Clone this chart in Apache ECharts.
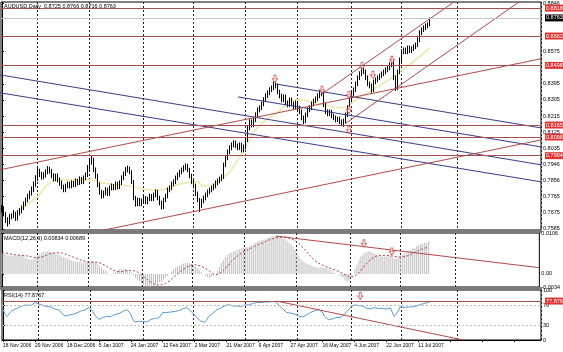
<!DOCTYPE html>
<html>
<head>
<meta charset="utf-8">
<script src="https://cdn.jsdelivr.net/npm/echarts@6/dist/echarts.min.js"></script>
<style>
html,body{margin:0;padding:0;background:#fff;}
#chart{width:563px;height:352px;}
</style>
</head>
<body>
<div id="chart"></div>
<script>
// AUDUSD daily, prices in pips (x 0.0001)
const dateLabels = ['18 Nov 2006','29 Nov 2006','18 Dec 2006','5 Jan 2007','24 Jan 2007','12 Feb 2007','2 Mar 2007','21 Mar 2007','9 Apr 2007','27 Apr 2007','16 May 2007','4 Jun 2007','22 Jun 2007','11 Jul 2007']
const gridBars = [18, 44, 71, 96, 122, 148, 175, 200, 228]
const priceTicks = [0.7585, 0.7675, 0.7765, 0.7856, 0.7946, 0.8035, 0.8125, 0.8215, 0.8305, 0.8395, 0.8575, 0.8846]

const opens = [
 7690,7702,7669,7635,7624,7652,7658,7669,7646,7674, 7686,7702,7725,7747,7764,7786,7803,7836,7870,7909,
 7892,7876,7887,7903,7920,7909,7881,7864,7881,7859, 7842,7820,7803,7825,7836,7825,7842,7831,7853,7842,
 7864,7848,7870,7887,7926,7959,7970,7915,7881,7831, 7792,7769,7786,7803,7781,7814,7825,7814,7836,7820,
 7842,7870,7892,7915,7920,7903,7848,7758,7725,7747, 7725,7741,7758,7736,7753,7769,7753,7775,7792,7758,
 7730,7708,7747,7769,7803,7814,7836,7848,7870,7887, 7903,7915,7926,7937,7915,7881,7848,7825,7781,7747,
 7714,7741,7758,7775,7792,7803,7814,7825,7842,7853, 7864,7876,7943,7982,8015,8038,8054,8065,8049,8038,
 8054,8026,8043,8082,8149,8183,8166,8194,8222,8250, 8261,8283,8306,8328,8345,8362,8373,8390,8384,8350,
 8328,8306,8323,8289,8278,8306,8283,8267,8289,8261, 8239,8205,8188,8222,8250,8261,8283,8300,8311,8328,
 8345,8339,8278,8239,8228,8239,8216,8205,8194,8199, 8183,8172,8188,8222,8261,8306,8339,8362,8395,8429,
 8451,8473,8462,8429,8395,8384,8362,8406,8418,8429, 8440,8451,8462,8473,8484,8501,8518,8429,8373,8462,
 8529,8574,8585,8574,8596,8580,8591,8602,8613,8641, 8680,8697,8708,8719,8725
]
const highs = [
 7718,7712,7680,7651,7668,7672,7690,7681,7690,7702, 7715,7738,7760,7781,7798,7822,7850,7885,7928,7921,
 7905,7902,7918,7936,7932,7920,7896,7893,7895,7872, 7855,7832,7838,7850,7848,7856,7853,7867,7864,7878,
 7875,7883,7900,7942,7978,7996,7982,7928,7893,7845, 7804,7799,7818,7815,7827,7839,7836,7850,7848,7856,
 7884,7905,7930,7938,7932,7912,7858,7770,7760,7758, 7755,7770,7769,7765,7782,7780,7788,7806,7803,7770,
 7742,7760,7781,7816,7828,7849,7862,7883,7900,7916, 7928,7940,7951,7948,7926,7893,7860,7838,7794,7758,
 7754,7771,7788,7805,7816,7827,7838,7855,7866,7877, 7890,7955,7996,8028,8052,8068,8080,8078,8062,8068,
 8066,8056,8095,8162,8197,8196,8208,8236,8264,8275, 8296,8320,8342,8358,8376,8386,8408,8402,8396,8362,
 8340,8336,8335,8302,8319,8318,8296,8302,8300,8273, 8251,8218,8235,8263,8275,8296,8313,8324,8342,8360,
 8368,8352,8290,8252,8252,8250,8229,8218,8212,8212, 8196,8201,8235,8275,8320,8352,8375,8408,8442,8465,
 8492,8486,8475,8442,8408,8397,8419,8431,8442,8453, 8464,8475,8486,8497,8515,8540,8531,8442,8475,8542,
 8588,8598,8598,8609,8609,8604,8615,8626,8655,8694, 8710,8721,8732,8738,8766
]
const lows = [
 7676,7655,7618,7598,7610,7638,7645,7630,7632,7660, 7672,7690,7712,7733,7750,7771,7790,7820,7852,7875,
 7860,7862,7872,7890,7894,7868,7850,7851,7845,7826, 7806,7790,7790,7812,7811,7812,7818,7819,7828,7830,
 7835,7836,7857,7875,7912,7944,7902,7866,7818,7776, 7754,7757,7773,7768,7770,7800,7801,7802,7806,7808,
 7830,7857,7880,7900,7890,7836,7745,7710,7712,7712, 7712,7728,7723,7722,7740,7740,7741,7762,7745,7717,
 7694,7696,7735,7756,7790,7801,7823,7835,7857,7874, 7890,7902,7913,7902,7868,7835,7812,7768,7734,7680,
 7702,7728,7745,7762,7779,7790,7801,7812,7829,7840, 7851,7864,7930,7969,8002,8024,8040,8036,8024,8025,
 8012,8013,8030,8070,8136,8152,8153,8181,8209,8236, 8248,8270,8293,8315,8332,8349,8360,8370,8337,8314,
 8292,8293,8276,8264,8265,8270,8254,8254,8248,8226, 8192,8170,8175,8210,8237,8248,8270,8287,8298,8315,
 8326,8265,8226,8214,8215,8203,8192,8180,8181,8170, 8159,8155,8175,8209,8248,8293,8326,8349,8382,8416,
 8438,8449,8416,8382,8370,8345,8349,8393,8405,8416, 8427,8438,8449,8460,8471,8488,8416,8355,8360,8449,
 8516,8561,8561,8561,8567,8567,8578,8589,8600,8628, 8667,8684,8695,8706,8716
]
const closes = [
 7702,7669,7635,7624,7652,7658,7669,7646,7674,7686, 7702,7725,7747,7764,7786,7803,7836,7870,7909,7892,
 7876,7887,7903,7920,7909,7881,7864,7881,7859,7842, 7820,7803,7825,7836,7825,7842,7831,7853,7842,7864,
 7848,7870,7887,7926,7959,7970,7915,7881,7831,7792, 7769,7786,7803,7781,7814,7825,7814,7836,7820,7842,
 7870,7892,7915,7920,7903,7848,7758,7725,7747,7725, 7741,7758,7736,7753,7769,7753,7775,7792,7758,7730,
 7708,7747,7769,7803,7814,7836,7848,7870,7887,7903, 7915,7926,7937,7915,7881,7848,7825,7781,7747,7714,
 7741,7758,7775,7792,7803,7814,7825,7842,7853,7864, 7876,7943,7982,8015,8038,8054,8065,8049,8038,8054,
 8026,8043,8082,8149,8183,8166,8194,8222,8250,8261, 8283,8306,8328,8345,8362,8373,8390,8384,8350,8328,
 8306,8323,8289,8278,8306,8283,8267,8289,8261,8239, 8205,8188,8222,8250,8261,8283,8300,8311,8328,8345,
 8339,8278,8239,8228,8239,8216,8205,8194,8199,8183, 8172,8188,8222,8261,8306,8339,8362,8395,8429,8451,
 8473,8462,8429,8395,8384,8362,8406,8418,8429,8440, 8451,8462,8473,8484,8501,8518,8429,8373,8462,8529,
 8574,8585,8574,8596,8580,8591,8602,8613,8641,8680, 8697,8708,8719,8725,8763
]
// yellow moving average, read as [bar, pips]
const maPoints = [[9,7691],[17.5,7764],[24,7842],[29,7859],[44,7859],[50.5,7842],[65.5,7820],[74,7803],[79,7803],[89,7836],[97.5,7848],[100.5,7825],[110.5,7870],[120.5,8015],[127.5,8149],[137.5,8233],[147.5,8306],[157.5,8289],[169,8261],[179,8322],[195.5,8434],[214,8596]]

// MACD main (histogram) and signal, x 0.0001
const macdMain = [
 53,52,50,48,47,47,47,48,49,50, 48,45,42,39,37,38,40,44,48,52, 55,57,58,58,58,57,55,53,51,49,
 46,44,41,39,37,35,33,32,31,30, 29,29,30,31,32,33,32,29,25,20, 15,11,7,3,0,-1,2,5,9,12,
 13,13,12,10,7,2,-4,-10,-15,-20, -24,-28,-31,-33,-34,-33,-31,-28,-25,-22, -20,-15,-10,-5,0,6,11,15,19,22,
 25,27,29,29,28,25,22,19,15,10, 5,0,-5,-8,-10,-8,-4,0,8,18, 28,36,43,49,53,55,58,60,62,64,
 66,68,69,70,71,74,77,80,83,86, 88,89,90,93,95,97,98,98,97,95, 93,91,90,86,81,76,70,63,55,46,
 37,33,30,27,24,22,20,18,17,16, 17,16,16,15,12,9,6,3,0,-3, -6,-10,-15,-21,-18,-10,0,12,24,37,
 45,51,55,57,58,57,55,52,49,47, 46,45,45,45,46,46,42,40,41,44, 47,50,53,56,59,62,65,68,72,75,
 77,79,80,81,83
]
const macdSignal = [
 55,55,54,53,52,51,50,49,49,48, 48,47,47,46,45,44,43,42,42,43, 44,46,48,50,52,53,54,55,55,55,
 54,53,51,49,47,45,43,41,39,37, 35,33,32,31,31,30,30,30,30,29, 27,24,21,18,15,12,9,7,6,6,
 6,7,8,9,9,9,8,7,5,2, -2,-6,-11,-15,-19,-23,-26,-28,-29,-29, -28,-27,-25,-22,-18,-14,-9,-5,0,4,
 8,12,15,18,21,23,24,24,23,22, 20,17,14,10,7,3,0,-2,-2,0, 4,9,14,20,26,32,37,42,46,50,
 54,57,60,62,65,67,70,72,74,77, 79,81,84,86,88,90,92,93,94,95, 95,95,95,94,93,91,89,86,82,78,
 73,68,62,56,50,44,39,34,30,27, 24,22,20,18,16,14,12,10,8,6, 4,1,-2,-5,-7,-8,-8,-6,-2,3,
 9,16,22,28,33,38,42,45,47,48, 48,48,48,48,47,47,46,45,44,44, 44,44,45,46,48,50,52,55,58,61,
 63,65,66,68,69
]
const rsiValues = [
 61,52,47,50,57,60,62,58,65,67, 69,71,70,67,69,72,75,74,72,71, 69,70,67,65,66,63,62,65,60,55,
 52,48,47,50,49,51,50,54,53,58, 61,60,63,65,63,57,50,46,41,43, 45,44,47,46,47,49,51,50,53,55,
 57,59,61,60,52,41,36,35,37,36, 37,38,36,39,41,40,43,47,44,48, 55,53,55,57,56,58,57,60,59,61,
 62,63,65,61,58,55,50,45,41,38, 36,35,40,47,50,53,57,60,62,64, 65,68,70,71,70,68,67,68,66,67,
 69,70,71,70,72,73,74,75,74,75, 75,76,75,76,77,77,77,76,70,67, 63,60,55,56,54,51,52,50,48,47,
 46,47,50,53,55,57,58,60,61,59, 56,47,44,41,43,42,44,45,46,45, 47,51,56,60,65,68,70,71,69,67,
 68,67,64,61,62,63,65,64,63,62, 63,61,62,63,64,65,47,43,58,67, 66,65,64,66,67,66,67,68,70,71,
 72,73,74,75,77
]

const levelPrices = [0.8818, 0.8662, 0.8498, 0.8165, 0.8098, 0.7994]
const bidPrice = 0.8763
const rsiLevel = 77.8767
// drawn lines: [bar1, value1, bar2, value2]
const blueLines = [[-1,8445,269.5,7943],[-1,8345,269.5,7848],[118,8322,269.5,8043],[136.5,8395,269.5,8149]]
const redLines = [[-1,7915,269.5,8535],[49,7574,269.5,8082],[160,8339,227.5,8864],[171.5,8172,260,8864]]
const macdTrend = [137.5, 98, 269.5, 16]
const rsiTrend = [137.5, 77.5, 230.5, 0]
const priceArrows = [[136.5,8423],[160,8362],[173.5,8334],[173.5,8250],[173.5,8138],[180,8496],[185.5,8445],[195,8529]]
const macdArrows = [[181.5,79],[195.5,58]]
const rsiArrows = [[179,88]]

const SLOTS = 270
const FONT = 'Liberation Sans'
const FS = 5.5
const cats = []
for (let i = 0; i < SLOTS; i++) cats.push(String(i))
const candles = closes.map((c, i) => [opens[i] / 1e4, c / 1e4, lows[i] / 1e4, highs[i] / 1e4])
const arrowPath = 'path://M3,0 L7,0 L7,5 L10,5 L5,10 L0,5 L3,5 Z'

function catAxis(gridIndex, showLabels) {
    return {
        type: 'category', gridIndex: gridIndex, data: cats, boundaryGap: true,
        axisLine: { show: showLabels, onZero: false, lineStyle: { color: '#000' } },
        axisTick: { show: showLabels, alignWithLabel: true, length: 2, interval: (i) => i % 16 === 0, lineStyle: { color: '#000' } },
        axisLabel: {
            show: showLabels, interval: (i) => i % 16 === 0, align: 'left', margin: 3,
            formatter: (v) => dateLabels[Number(v) / 16] || '',
            fontSize: 5, fontFamily: FONT, color: '#000'
        },
        splitLine: { show: true, interval: (i) => gridBars.indexOf(i) >= 0, lineStyle: { color: '#222', width: 1, type: [2, 2] } }
    }
}
function valAxis(gridIndex) {
    return { type: 'value', gridIndex: gridIndex, min: -0.5, max: SLOTS - 0.5, show: false }
}
function sideAxis(gridIndex, min, max, ticks, fmt) {
    return {
        type: 'value', gridIndex: gridIndex, position: 'right', min: min, max: max,
        axisLine: { show: true, lineStyle: { color: '#000' } },
        axisTick: { show: true, length: 2, customValues: ticks, lineStyle: { color: '#000' } },
        axisLabel: { customValues: ticks, formatter: fmt, margin: 2, fontSize: FS, fontFamily: FONT, color: '#000' },
        splitLine: { show: false }
    }
}
function segment(xi, yi, l, scale, color) {
    return {
        type: 'line', xAxisIndex: xi, yAxisIndex: yi, symbol: 'none', silent: true, z: 3,
        data: [[l[0], l[1] / scale], [l[2], l[3] / scale]],
        lineStyle: { color: color, width: 1 }
    }
}
function arrows(xi, yi, pts, scale) {
    return {
        type: 'scatter', xAxisIndex: xi, yAxisIndex: yi, symbol: arrowPath, symbolSize: [5, 7], z: 5,
        data: pts.map(p => [p[0], p[1] / scale]),
        itemStyle: { color: '#fff', borderColor: '#d04848', borderWidth: 1 }
    }
}
const redLabel = {
    position: 'end', distance: 4, backgroundColor: '#e03434', color: '#fff',
    fontSize: FS, fontFamily: FONT, padding: [1, 1, 0, 1]
}

const series = [
    {
        type: 'line', xAxisIndex: 3, yAxisIndex: 0, symbol: 'none', smooth: true, z: 1,
        data: maPoints.map(p => [p[0], p[1] / 1e4]),
        lineStyle: { color: '#efe7a6', width: 1.5 }
    },
    {
        type: 'candlestick', xAxisIndex: 0, yAxisIndex: 0, data: candles, barWidth: 1, z: 2,
        itemStyle: { color: '#000', color0: '#000', borderColor: '#000', borderColor0: '#000', borderWidth: 1 },
        markLine: {
            silent: true, symbol: 'none', animation: false, precision: 4, z: 6,
            lineStyle: { color: '#a85050', width: 1, type: 'solid' },
            label: Object.assign({ formatter: (p) => Number(p.value).toFixed(4) }, redLabel),
            data: levelPrices.map(p => ({ yAxis: p })).concat([{
                yAxis: bidPrice, lineStyle: { color: '#c8c8c8' },
                label: { backgroundColor: '#000', color: '#fff' }
            }])
        }
    }
]
blueLines.forEach(l => series.push(segment(3, 0, l, 1e4, '#3a3a8c')))
redLines.forEach(l => series.push(segment(3, 0, l, 1e4, '#b04a4a')))
series.push(arrows(3, 0, priceArrows, 1e4))

series.push({
    type: 'bar', xAxisIndex: 1, yAxisIndex: 1, barWidth: 1, silent: true,
    data: macdMain.map(v => v / 1e4), itemStyle: { color: '#bdbdbd' }
})
series.push({
    type: 'line', xAxisIndex: 1, yAxisIndex: 1, symbol: 'none', silent: true,
    data: macdSignal.map(v => v / 1e4), lineStyle: { color: '#b04040', width: 1, type: [2, 2] }
})
series.push(segment(4, 1, macdTrend, 1e4, '#b04a4a'))
series.push(arrows(4, 1, macdArrows, 1e4))

series.push({
    type: 'line', xAxisIndex: 2, yAxisIndex: 2, symbol: 'none', silent: true,
    data: rsiValues, lineStyle: { color: '#5b9bd5', width: 1 },
    markLine: {
        silent: true, symbol: 'none', animation: false, precision: 4,
        lineStyle: { color: '#bdbdbd', width: 1, type: [2, 2] },
        label: { show: false },
        data: [{ yAxis: 30 }, { yAxis: 70 }, {
            yAxis: rsiLevel, lineStyle: { color: '#a85050', type: 'solid' },
            label: Object.assign({ show: true, formatter: rsiLevel.toFixed(4) }, redLabel)
        }]
    }
})
series.push(segment(5, 2, rsiTrend, 1, '#b04a4a'))
series.push(arrows(5, 2, rsiArrows, 1))

const textStyle = { fontSize: FS, fontFamily: FONT, fill: '#000' }
const chart = echarts.init(document.getElementById('chart'))
chart.setOption({
    animation: false,
    backgroundColor: '#fff',
    grid: [
        { left: 1, right: 22, top: 2, height: 228, show: true, borderColor: '#000', borderWidth: 1 },
        { left: 1, right: 22, top: 233, height: 54, show: true, borderColor: '#000', borderWidth: 1 },
        { left: 1, right: 22, top: 290, height: 50, show: true, borderColor: '#000', borderWidth: 1 }
    ],
    xAxis: [catAxis(0, false), catAxis(1, false), catAxis(2, true), valAxis(0), valAxis(1), valAxis(2)],
    yAxis: [
        sideAxis(0, 0.7579, 0.8852, priceTicks, (v) => v.toFixed(4)),
        sideAxis(1, -0.0034, 0.0106, [-0.0034, 0, 0.0106], (v) => v === 0 ? '0.00' : v.toFixed(4)),
        sideAxis(2, 0, 100, [0, 30, 70, 100], (v) => String(v))
    ],
    series: series,
    graphic: [
        { type: 'rect', shape: { x: 0, y: 230, width: 542, height: 3 }, style: { fill: '#7a7a7a' }, z: 10 },
        { type: 'rect', shape: { x: 0, y: 287, width: 542, height: 3 }, style: { fill: '#7a7a7a' }, z: 10 },
        { type: 'text', left: 4, top: 3, style: Object.assign({ text: 'AUDUSD,Daily  0.8725 0.8766 0.8716 0.8763' }, textStyle), z: 10 },
        { type: 'text', left: 4, top: 235, style: Object.assign({ text: 'MACD(12,26,9) 0.00834 0.00689' }, textStyle), z: 10 },
        { type: 'text', left: 4, top: 292, style: Object.assign({ text: 'RSI(14) 77.8767' }, textStyle), z: 10 }
    ]
})
</script>
</body>
</html>
